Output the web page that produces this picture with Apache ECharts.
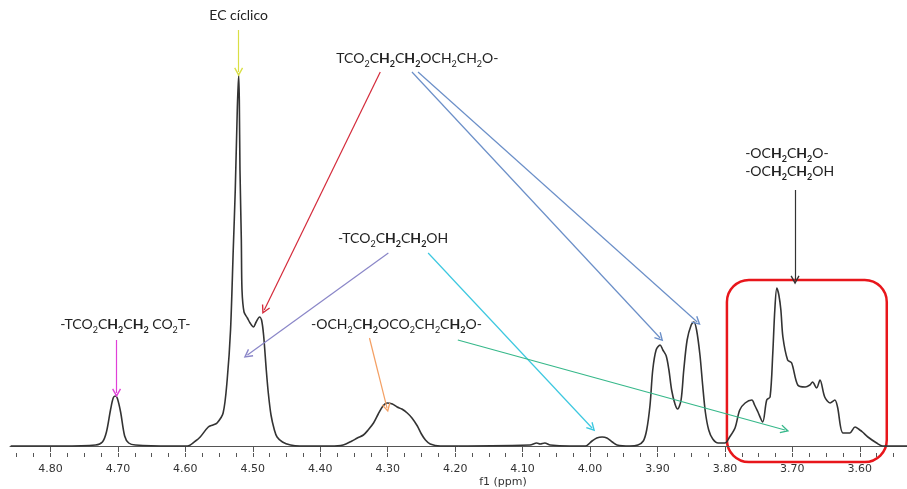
<!DOCTYPE html>
<html>
<head>
<meta charset="utf-8">
<script src="https://cdn.jsdelivr.net/npm/echarts@6/dist/echarts.min.js"></script>
<style>
  html, body { margin: 0; padding: 0; background: #fff; }
  #chart { width: 907px; height: 489px; }
</style>
</head>
<body>
<div id="chart"></div>
<script>
// 1H NMR spectrum: [chemical shift (ppm), intensity]
const spectrum = [
  [4.859, 0], [4.785, 0], [4.733, 1], [4.723, 4], [4.717, 14], [4.711, 36], [4.707, 48],
  [4.704, 50], [4.701, 48], [4.696, 34], [4.690, 10], [4.684, 3], [4.674, 1], [4.622, 0],
  [4.597, 0], [4.585, 5], [4.578, 9], [4.566, 19], [4.559, 21], [4.553, 23], [4.544, 33],
  [4.538, 66], [4.533, 116], [4.529, 196], [4.526, 256], [4.523, 336], [4.521, 371],
  [4.520, 346], [4.519, 276], [4.517, 206], [4.516, 156], [4.513, 134], [4.508, 128],
  [4.504, 123], [4.499, 119], [4.495, 124], [4.490, 129], [4.487, 126], [4.484, 111],
  [4.480, 76], [4.477, 53], [4.473, 31], [4.468, 16], [4.464, 9], [4.456, 4], [4.444, 1],
  [4.430, 0], [4.385, 0], [4.366, 1], [4.353, 5], [4.345, 8], [4.336, 11], [4.329, 16],
  [4.321, 23], [4.314, 32], [4.307, 40], [4.301, 43], [4.293, 42], [4.286, 39], [4.279, 37],
  [4.271, 33], [4.264, 28], [4.256, 20], [4.250, 12], [4.244, 6], [4.237, 2], [4.222, 0],
  [4.089, 1], [4.079, 3], [4.074, 2], [4.067, 3], [4.059, 1], [4.030, 0], [4.007, 0],
  [3.997, 5], [3.990, 8], [3.982, 9], [3.975, 8], [3.967, 4], [3.960, 1], [3.941, 0],
  [3.929, 1], [3.921, 5], [3.916, 16], [3.911, 41], [3.907, 76], [3.902, 96], [3.896, 101],
  [3.892, 96], [3.887, 90], [3.883, 76], [3.879, 56], [3.874, 42], [3.870, 37], [3.865, 46],
  [3.861, 76], [3.856, 106], [3.850, 121], [3.846, 124], [3.842, 116], [3.837, 91],
  [3.833, 61], [3.829, 34], [3.824, 16], [3.818, 7], [3.810, 3], [3.800, 3], [3.793, 9],
  [3.785, 18], [3.778, 36], [3.770, 43], [3.760, 46], [3.756, 41], [3.751, 34], [3.744, 24],
  [3.738, 46], [3.733, 49], [3.729, 93], [3.726, 136], [3.723, 158], [3.720, 151],
  [3.717, 136], [3.714, 109], [3.707, 86], [3.701, 83], [3.692, 61], [3.681, 59],
  [3.674, 61], [3.670, 64], [3.664, 58], [3.659, 66], [3.652, 49], [3.644, 43], [3.637, 46],
  [3.633, 39], [3.625, 13], [3.615, 13], [3.607, 19], [3.600, 16], [3.596, 14], [3.588, 9],
  [3.575, 3], [3.566, 0], [3.530, 0]
];

// labelled ticks on the shift axis
const majorTicks = [4.80, 4.70, 4.60, 4.50, 4.40, 4.30, 4.20, 4.10, 4.00, 3.90, 3.80, 3.70, 3.60];

// assignment labels: markup uses _x for a subscript and *...* for bold
const assignments = [
  { text: 'EC cíclico', at: [4.521, 429], align: 'center' },
  { text: 'TCO_2C*H_2*C*H_2*OCH_2CH_2O-', at: [4.256, 386], align: 'center' },
  { text: '-OC*H_2*C*H_2*O-\n-OC*H_2*C*H_2*OH', at: [3.770, 282], align: 'left' },
  { text: '-TCO_2C*H_2*C*H_2* CO_2T-', at: [4.689, 120], align: 'center' },
  { text: '-TCO_2C*H_2*C*H_2*OH', at: [4.292, 206], align: 'center' },
  { text: '-OCH_2C*H_2*OCO_2CH_2C*H_2*O-', at: [4.287, 120], align: 'center' }
];

// arrows from each label to its resonance
const arrows = [
  { from: [4.521, 416], to: [4.521, 374], color: '#d9df45' },
  { from: [4.311, 374], to: [4.483, 136], color: '#d42a3a' },
  { from: [4.264, 374], to: [3.896, 108], color: '#6b8fc8' },
  { from: [4.255, 374], to: [3.841, 124], color: '#6b8fc8' },
  { from: [3.696, 256], to: [3.696, 166], color: '#333333' },
  { from: [4.702, 106], to: [4.702, 53], color: '#e040d8' },
  { from: [4.299, 193], to: [4.508, 91], color: '#8a86c8' },
  { from: [4.240, 193], to: [3.997, 18], color: '#3cc8e0' },
  { from: [4.327, 108], to: [4.301, 38], color: '#f4a064' },
  { from: [4.196, 106], to: [3.711, 16], color: '#36b88a' }
];

// highlighted region (ppm range, intensity range)
const highlightBox = { ppm: [3.797, 3.560], intensity: [166, -16] };

const axisTitle = { text: 'f1 (ppm)', at: [4.129, -36] };

const minorTicks = [];
for (let k = 0; k <= 52; k++) minorTicks.push(+(4.85 - k * 0.025).toFixed(3));

const FONT = 'Lato, "Noto Sans", sans-serif';
const richStyles = {
  n: { fontSize: 14, fontFamily: FONT, fill: '#222', lineHeight: 18, verticalAlign: 'top' },
  b: { fontSize: 14, fontFamily: FONT, fill: '#222', lineHeight: 18, fontWeight: 'bold', verticalAlign: 'top' },
  s: { fontSize: 9, fontFamily: FONT, fill: '#222', lineHeight: 9, verticalAlign: 'bottom' },
  bs: { fontSize: 9, fontFamily: FONT, fill: '#222', lineHeight: 9, fontWeight: 'bold', verticalAlign: 'bottom' }
};

function toRich(markup) {
  let out = '', bold = false, buf = '', cur = null;
  const flush = () => { if (buf) out += '{' + cur + '|' + buf + '}'; buf = ''; };
  for (let i = 0; i < markup.length; i++) {
    const c = markup[i];
    if (c === '*') { bold = !bold; continue; }
    if (c === '\n') { flush(); out += '\n'; continue; }
    let style = bold ? 'b' : 'n', ch = c;
    if (c === '_') { style = bold ? 'bs' : 's'; ch = markup[++i]; }
    if (style !== cur) { flush(); cur = style; }
    buf += ch;
  }
  flush();
  return out;
}

const openArrow = 'path://M5,0 L10,9 L8.7,9.7 L5,3.2 L1.3,9.7 L0,9 Z';

const chart = echarts.init(document.getElementById('chart'));
const axisRange = { type: 'value', min: 3.53, max: 4.86, inverse: true, position: 'bottom' };

chart.setOption({
  animation: false,
  backgroundColor: '#fff',
  grid: { left: 10, right: 0, top: 0, bottom: 36 },
  xAxis: [
    Object.assign({}, axisRange, {
      axisLine: { lineStyle: { color: '#555', width: 1 } },
      axisTick: { customValues: majorTicks, length: 6, lineStyle: { color: '#555' } },
      axisLabel: {
        customValues: majorTicks, margin: 11,
        formatter: v => v.toFixed(2),
        fontFamily: '"DejaVu Sans", sans-serif', fontSize: 11, color: '#333'
      },
      splitLine: { show: false }
    }),
    Object.assign({}, axisRange, {
      axisLine: { show: false },
      axisTick: { customValues: minorTicks, length: 4, lineStyle: { color: '#555' } },
      axisLabel: { show: false },
      splitLine: { show: false }
    })
  ],
  yAxis: { type: 'value', min: -7, max: 446, show: false },
  series: [{
    type: 'line',
    data: spectrum,
    showSymbol: false,
    smooth: 0.3,
    lineStyle: { color: '#333', width: 1.6 },
    markLine: {
      silent: true,
      symbol: ['none', openArrow],
      symbolSize: 9,
      label: { show: false },
      data: arrows.map(a => [
        { coord: a.from, lineStyle: { color: a.color, width: 1.2, type: 'solid' } },
        { coord: a.to }
      ])
    }
  }]
});

const px = p => chart.convertToPixel({ seriesIndex: 0 }, p);
const graphics = assignments.map(a => {
  const [x, y] = px(a.at);
  return {
    type: 'text', x, y, silent: true,
    style: { text: toRich(a.text), rich: richStyles, align: a.align, verticalAlign: 'middle' }
  };
});
const p1 = px([highlightBox.ppm[0], highlightBox.intensity[0]]);
const p2 = px([highlightBox.ppm[1], highlightBox.intensity[1]]);
graphics.push({
  type: 'rect', silent: true,
  shape: { x: p1[0], y: p1[1], width: p2[0] - p1[0], height: p2[1] - p1[1], r: 22 },
  style: { fill: 'none', stroke: '#e8161b', lineWidth: 2.5 }
});
const t = px(axisTitle.at);
graphics.push({
  type: 'text', x: t[0], y: t[1], silent: true,
  style: { text: axisTitle.text, fontFamily: '"DejaVu Sans", sans-serif', fontSize: 11, fill: '#333', align: 'center', verticalAlign: 'middle' }
});
chart.setOption({ graphic: graphics });
</script>
</body>
</html>
